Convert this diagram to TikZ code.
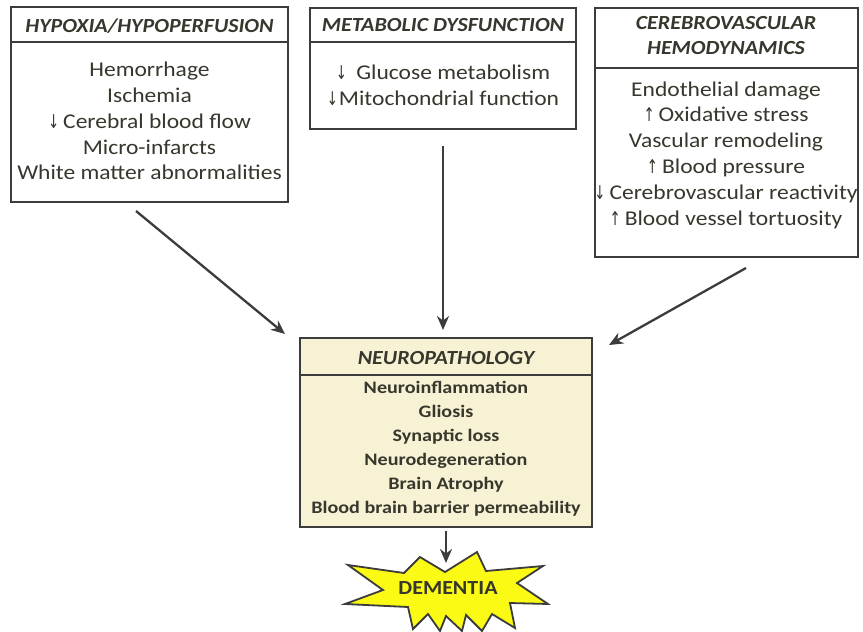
\documentclass[tikz,border=0pt]{standalone}
\usepackage{fontspec}
\setmainfont{Carlito}
\newfontfamily\bodyfont[FakeStretch=1.12]{Carlito}
\newfontfamily\titlefont[FakeStretch=1.1]{Carlito}
\newfontfamily\neufont[FakeStretch=1.15]{Carlito}
\newfontfamily\arrfont{DejaVu Sans}
\usetikzlibrary{arrows.meta}
\definecolor{txt}{RGB}{55,55,45}
\definecolor{bordc}{RGB}{60,60,60}
\definecolor{neufill}{RGB}{247,242,212}
\definecolor{starfill}{RGB}{250,250,20}
\newcommand{\dn}{\scalebox{0.7}[1]{\arrfont\fontsize{19}{19}\selectfont ↓}\hspace{4pt}}
\newcommand{\up}{\scalebox{0.7}[1]{\arrfont\fontsize{19}{19}\selectfont ↑}\hspace{4pt}}
\tikzset{
  boxframe/.style={draw=bordc,line width=2pt,fill=white,inner sep=0pt},
  titletext/.style={text=txt,font=\titlefont\fontsize{20}{25}\selectfont\bfseries\itshape,inner sep=0pt},
  bodytext/.style={text=txt,font=\bodyfont\fontsize{21}{25.8}\selectfont,align=center,inner sep=0pt},
  neutext/.style={text=txt,font=\neufont\fontsize{17.5}{24}\selectfont\bfseries,align=center,inner sep=0pt},
  flow/.style={draw=bordc,line width=2.3pt,-{Stealth[length=14pt,width=12pt]}},
}
\begin{document}
\begin{tikzpicture}[x=1pt,y=-1pt]
\useasboundingbox (0,0) rectangle (863,632);
% Box 1
\node[boxframe,minimum width=277pt,minimum height=195pt] (b1) at (149.5,104.5) {};
\draw[bordc,line width=1.5pt] (b1.west |- 0,42) -- (b1.east |- 0,42);
\node[titletext] (t1) at (149.5,26) {HYPOXIA/HYPOPERFUSION};
\node[bodytext] (l1) at (149.5,121) {Hemorrhage\\Ischemia\\\dn Cerebral blood flow\\Micro-infarcts\\White matter abnormalities};
% Box 2
\node[boxframe,minimum width=266pt,minimum height=121pt] (b2) at (443,68) {};
\draw[bordc,line width=1.5pt] (b2.west |- 0,42) -- (b2.east |- 0,42);
\node[titletext] (t2) at (443,25) {METABOLIC DYSFUNCTION};
\node[bodytext] (l2) at (443,85) {\dn\ Glucose metabolism\\{\scalebox{0.7}[1]{\arrfont\fontsize{19}{19}\selectfont ↓}\hspace{1pt}}Mitochondrial function};
% Box 3
\node[boxframe,minimum width=263pt,minimum height=249pt] (b3) at (726,132.5) {};
\draw[bordc,line width=1.5pt] (b3.west |- 0,68) -- (b3.east |- 0,68);
\node[titletext,align=center] (t3) at (726,36) {CEREBROVASCULAR\\HEMODYNAMICS};
\node[bodytext] (l3) at (726,155) {Endothelial damage\\\up Oxidative stress\\Vascular remodeling\\\up Blood pressure\\\dn Cerebrovascular reactivity\\\up Blood vessel tortuosity};
% Neuropathology
\node[boxframe,fill=neufill,minimum width=292pt,minimum height=189pt] (nb) at (446,432.5) {};
\draw[bordc,line width=1.5pt] (nb.west |- 0,375) -- (nb.east |- 0,375);
\node[titletext] (tn) at (446,358) {NEUROPATHOLOGY};
\node[neutext] (ln) at (446,449) {Neuroinflammation\\Gliosis\\Synaptic loss\\Neurodegeneration\\Brain Atrophy\\Blood brain barrier permeability};
% Dementia star
\coordinate (sc) at (448,588);
\draw[bordc,line width=1.8pt,fill=starfill,line join=miter]
 (348,565) -- (404,573) -- (420,557) -- (445,572) -- (477,552) -- (486,571)
 -- (543,566) -- (517,583) -- (548,604) -- (510,603) -- (515,628) -- (492,614) -- (482,631)
 -- (466,615) -- (462,631) -- (446,616) -- (440,631) -- (428,614) -- (413,629) -- (408,607) -- (345,604) -- (383,590) -- cycle;
\node[text=txt,font=\titlefont\fontsize{20}{20}\selectfont\bfseries,inner sep=0pt] (dem) at (sc) {DEMENTIA};
% connectors
\coordinate (s1) at (136,211);
\coordinate (e1) at (285,334);
\coordinate (s2) at (443,146);
\coordinate (e2) at (443,330);
\coordinate (s3) at (746,268);
\coordinate (e3) at (609,345);
\coordinate (s4) at (446,531);
\coordinate (e4) at (446,563);
\draw[flow] (s1) -- (e1);
\draw[flow] (s2) -- (e2);
\draw[flow] (s3) -- (e3);
\draw[flow] (s4) -- (e4);
\end{tikzpicture}
\end{document}
